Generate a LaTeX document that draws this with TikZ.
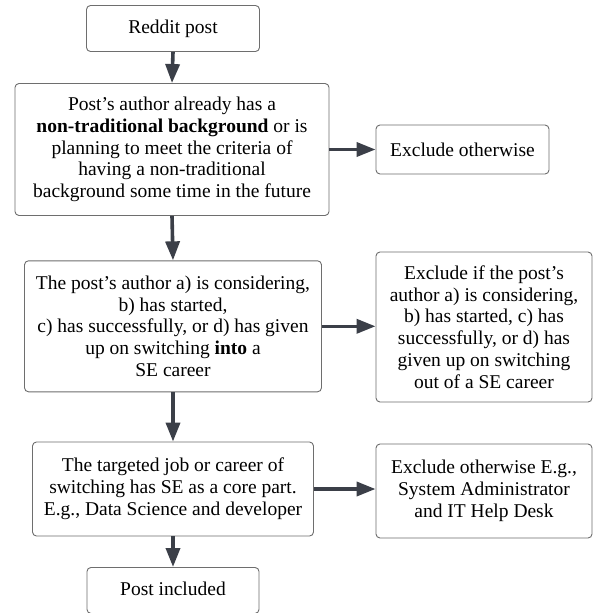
\documentclass[tikz,border=0pt]{standalone}
\usepackage{fontspec}
\setmainfont{Liberation Serif}
\usetikzlibrary{arrows.meta}
\definecolor{arr}{HTML}{3B3F48}
\definecolor{bord}{HTML}{6E6E6E}
\begin{document}
\begin{tikzpicture}[x=1pt,y=-1pt,
  box/.style={draw=bord,line width=0.9pt,rounded corners=4pt,align=center,inner sep=0pt,
    font=\fontsize{19.5pt}{21.8pt}\selectfont},
  flow/.style={draw=arr,line width=3.6pt,-{Triangle[length=19pt,width=14pt]}}]
\useasboundingbox (0,0) rectangle (593,613);
\clip (0,0) rectangle (593,613);
\fill[white] (0,0) rectangle (593,613);
\node[box,minimum width=173pt,minimum height=46pt] (b1) at (173,28.5) {Reddit post};
\node[box,minimum width=314pt,minimum height=132pt] (b2) at (172,149.5) {Post’s author already has a\\ \textbf{non-traditional background} or is\\ planning to meet the criteria of\\ having a non-traditional\\ background some time in the future};
\node[box,minimum width=173pt,minimum height=49pt] (e1) at (462.5,149.5) {Exclude otherwise};
\node[box,minimum width=297pt,minimum height=131pt] (b3) at (173,326.3) {The post’s author a) is considering,\\ b) has started,\\ c) has successfully, or d) has given\\ up on switching \textbf{into} a\\ SE career};
\node[box,minimum width=216pt,minimum height=150pt] (e2) at (484,327) {Exclude if the post’s\\ author a) is considering,\\ b) has started, c) has\\ successfully, or d) has\\ given up on switching\\ out of a SE career};
\node[box,minimum width=281pt,minimum height=94pt] (b4) at (173,489) {The targeted job or career of\\ switching has SE as a core part.\\ E.g., Data Science and developer};
\node[box,minimum width=216pt,minimum height=94pt] (e3) at (484,491) {Exclude otherwise E.g.,\\ System Administrator\\ and IT Help Desk};
\node[box,minimum width=172pt,minimum height=46pt,anchor=north] (b5) at (173,567) {};
\node[font=\fontsize{19.5pt}{21.8pt}\selectfont] (b5t) at (173,589) {Post included};
\draw[flow] (b1.south) -- (b2.north);
\draw[flow] (b2.south) -- (b3.north);
\draw[flow] (b3.south) -- (b4.north);
\draw[flow] (b4.south) -- (b5.north);
\draw[flow] (b2.east) -- (e1.west);
\draw[flow] (b3.east) -- (b3.east -| e2.west);
\draw[flow] (b4.east) -- (b4.east -| e3.west);
\end{tikzpicture}
\end{document}
